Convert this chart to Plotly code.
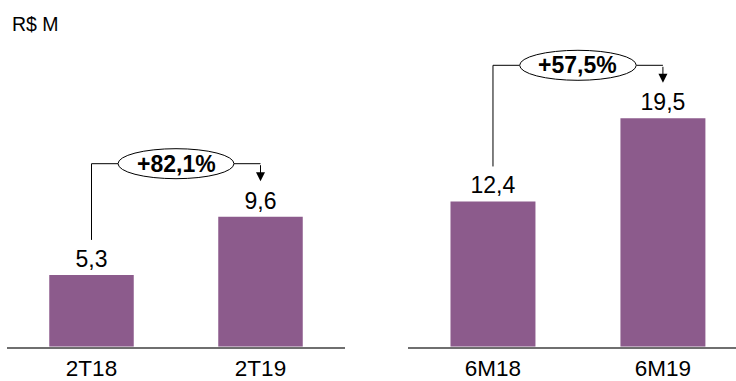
import plotly.graph_objects as go

# ---- data ----
cats_q = ["2T18", "2T19"]
vals_q = [5.3, 9.6]
growth_q = 82.1
cats_s = ["6M18", "6M19"]
vals_s = [12.4, 19.5]
growth_s = 57.5
unit_label = "R$ M"

W, H = 736, 381
BAR = "#8C5B8C"
FONT = "Liberation Sans, Arial, sans-serif"

base_px = 346.7             # baseline pixel row
plot_h = base_px            # domain top at paper 1
ydom0 = (H - base_px) / H
yr_q = 25.6
yr_s = 29.6

def fmt(v):
    return f"{v:.1f}".replace(".", ",")

fig = go.Figure()
fig.add_trace(go.Bar(x=cats_q, y=vals_q, xaxis="x", yaxis="y", width=0.5,
                     marker=dict(color=BAR, line=dict(width=0)),
                     text=[fmt(v) for v in vals_q], textposition="outside",
                     textfont=dict(size=23, color="#000", family=FONT),
                     cliponaxis=False, hoverinfo="skip"))
fig.add_trace(go.Bar(x=cats_s, y=vals_s, xaxis="x2", yaxis="y2", width=0.5,
                     marker=dict(color=BAR, line=dict(width=0)),
                     text=[fmt(v) for v in vals_s], textposition="outside",
                     textfont=dict(size=23, color="#000", family=FONT),
                     cliponaxis=False, hoverinfo="skip"))

shapes, annots = [], []

def connector(xref, yref, vals, yr, growth):
    s = plot_h / yr  # px per unit
    y_bot = vals[0] + 35 / s
    y_h = vals[1] + 53 / s
    y_tip = vals[1] + 35.5 / s
    e_half = 15 / s
    ex0, ex1 = 0.157, 0.843
    ln = dict(color="#000", width=1)
    shapes.append(dict(type="line", xref=xref, yref=yref, x0=0, x1=0, y0=y_bot, y1=y_h, line=ln))
    shapes.append(dict(type="line", xref=xref, yref=yref, x0=0, x1=ex0, y0=y_h, y1=y_h, line=ln))
    shapes.append(dict(type="line", xref=xref, yref=yref, x0=ex1, x1=1, y0=y_h, y1=y_h, line=ln))
    shapes.append(dict(type="circle", xref=xref, yref=yref, x0=ex0, x1=ex1,
                       y0=y_h - e_half, y1=y_h + e_half, line=ln, fillcolor="white", layer="above"))
    annots.append(dict(xref=xref, yref=yref, axref=xref, ayref=yref, x=1, y=y_tip, ax=1, ay=y_h,
                       text="", showarrow=True, arrowhead=2, arrowsize=1.8, arrowwidth=1,
                       arrowcolor="#000", standoff=0, startstandoff=0))
    annots.append(dict(xref=xref, yref=yref, x=0.5, y=y_h, showarrow=False,
                       text="<b>+" + fmt(growth) + "%</b>",
                       font=dict(size=23, color="#000", family=FONT)))

connector("x", "y", vals_q, yr_q, growth_q)
connector("x2", "y2", vals_s, yr_s, growth_s)

annots.append(dict(xref="paper", yref="paper", x=10 / W, y=1 - 24 / H, xanchor="left",
                   yanchor="middle", text=unit_label, showarrow=False,
                   font=dict(size=19.5, color="#000", family=FONT)))

axis_common = dict(showgrid=False, zeroline=False, showline=True, linecolor="#6f6f6f",
                   linewidth=2, ticks="", tickfont=dict(size=22.5, color="#000", family=FONT),
                   fixedrange=True)
fig.update_layout(
    width=W, height=H, margin=dict(l=0, r=0, t=0, b=0),
    paper_bgcolor="white", plot_bgcolor="white", showlegend=False,
    xaxis=dict(domain=[7 / W, 345 / W], range=[-0.5, 1.5], anchor="y", **axis_common),
    xaxis2=dict(domain=[408 / W, 1.0], range=[-0.5, 1.43], anchor="y2", **axis_common),
    yaxis=dict(domain=[ydom0, 1], range=[0, yr_q], visible=False, anchor="x"),
    yaxis2=dict(domain=[ydom0, 1], range=[0, yr_s], visible=False, anchor="x2"),
    shapes=shapes, annotations=annots,
)
fig.write_html("out.html")
